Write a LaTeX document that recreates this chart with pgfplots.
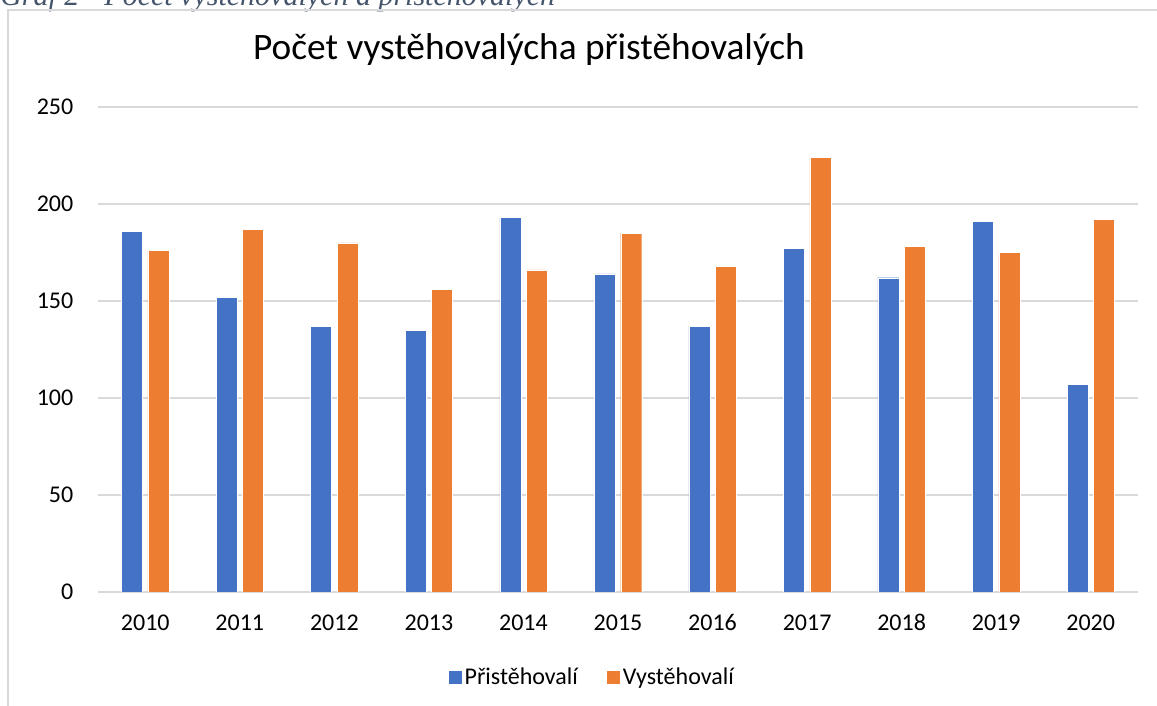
\documentclass[border=0pt]{standalone}
\usepackage{pgfplots}
\pgfplotsset{compat=1.18}
\usepackage{fontspec}
\setmainfont{Carlito}
\newfontfamily\capfont{Liberation Serif}
\definecolor{xlblue}{HTML}{4472C4}
\definecolor{xlorange}{HTML}{ED7D31}
\definecolor{gridgrey}{HTML}{D9D9D9}
\definecolor{capcol}{HTML}{44546A}

\pgfplotstableread{
x  pri  vys
0  186  176
1  152  187
2  137  180
3  135  156
4  193  166
5  164  185
6  137  168
7  177  224
8  162  178
9  191  175
10 107  192
}\migrace

\begin{document}
\begin{tikzpicture}
\useasboundingbox (0,0) rectangle (867.75pt,529.5pt);
\begin{scope}
\clip (0,0) rectangle (867.75pt,529.5pt);
% oriznuty titulek grafu z dokumentu
\node[anchor=base west,inner sep=0pt,text=capcol,font=\capfont\itshape\fontsize{22.5}{26}\selectfont] at (0pt,525pt) {Graf 2 - Počet vystěhovalých a přistěhovalých};
% ramecek grafu
\draw[gridgrey,line width=1pt] (6pt,-10pt) -- (6pt,522pt) -- (880pt,522pt);
\end{scope}
\node[font=\fontsize{28}{32}\selectfont] at (396.75pt,492pt) {Počet vystěhovalýcha přistěhovalých};
\begin{axis}[
    at={(73.5pt,85.5pt)}, anchor=south west,
    scale only axis,
    width=780pt, height=363.75pt,
    ybar, bar width=15.75pt,
    xmin=-0.5, xmax=10.5,
    ymin=0, ymax=250,
    ytick={0,50,...,250},
    xtick=data,
    xticklabels={2010,2011,2012,2013,2014,2015,2016,2017,2018,2019,2020},
    ymajorgrids=true,
    grid style={gridgrey,line width=1pt},
    axis x line*=bottom,
    axis y line*=left,
    x axis line style={gridgrey,line width=1pt,-},
    y axis line style={draw=none},
    major tick length=0pt,
    ticklabel style={font=\fontsize{18}{21}\selectfont},
    yticklabel style={xshift=-15pt},
    xticklabel style={anchor=base, yshift=-29pt},
    /pgf/number format/assume math mode=true,
    legend style={draw=none, at={(0.475,-0.175)}, anchor=center,
        legend columns=2, font=\fontsize{18}{21}\selectfont,
        /tikz/every odd column/.append style={column sep=0pt},
        /tikz/every even column/.append style={column sep=19pt},
        cells={inner xsep=4pt}},
    legend image code/.code={\fill[#1] (0pt,-5.25pt) rectangle (10.5pt,5.25pt);},
]
\addplot[fill=xlblue, draw=white, line width=0.3pt, bar shift=-9.9pt] table[x=x,y=pri] {\migrace};
\addplot[fill=xlorange, draw=white, line width=0.3pt, bar shift=9.9pt] table[x=x,y=vys] {\migrace};
\legend{Přistěhovalí,Vystěhovalí}
\end{axis}
\end{tikzpicture}
\end{document}
